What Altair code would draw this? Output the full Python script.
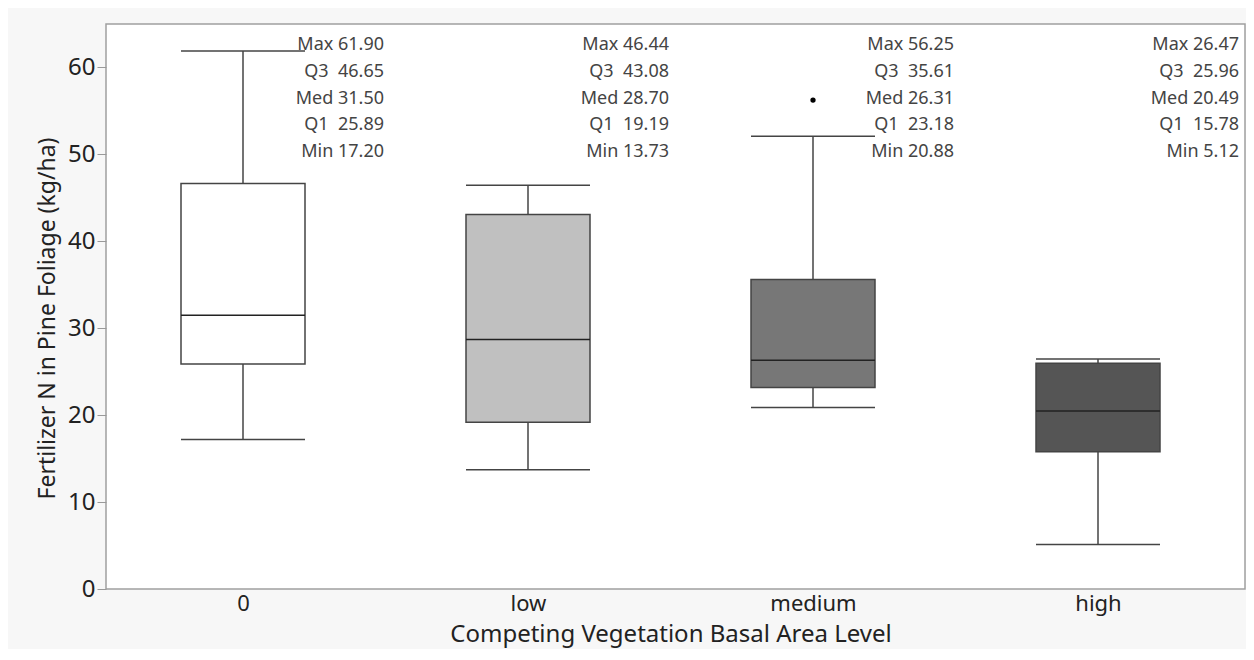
import altair as alt
import pandas as pd

categories = ["0", "low", "medium", "high"]
q1 = [25.89, 19.19, 23.18, 15.78]
q3 = [46.65, 43.08, 35.61, 25.96]
med = [31.50, 28.70, 26.31, 20.49]
mins = [17.20, 13.73, 20.88, 5.12]
maxs = [61.90, 46.44, 56.25, 26.47]
whisk_hi = [61.90, 46.44, 52.10, 26.47]
whisk_lo = [17.20, 13.73, 20.88, 5.12]
fills = ["#ffffff", "#c0c0c0", "#777777", "#555555"]
outlier_cat = ["medium"]
outlier_val = [56.25]
stat_rows = ["Max", "Q3", "Med", "Q1", "Min"]

box_df = pd.DataFrame({
    "cat": categories, "q1": q1, "q3": q3, "med": med,
    "wlo": whisk_lo, "whi": whisk_hi, "fill": fills,
})
out_df = pd.DataFrame({"cat": outlier_cat, "val": outlier_val})

sep = {"Max": " ", "Q3": "\u00a0\u00a0", "Med": " ", "Q1": "\u00a0\u00a0", "Min": " "}
txt = []
for i, c in enumerate(categories):
    vals = {"Max": maxs[i], "Q3": q3[i], "Med": med[i], "Q1": q1[i], "Min": mins[i]}
    for r in stat_rows:
        txt.append({"cat": c, "row": r, "label": f"{r}{sep[r]}{vals[r]:.2f}"})
txt_df = pd.DataFrame(txt)

FONT = "Noto Sans"
x_scale = alt.Scale(type="point", domain=categories, range=[137, 992], padding=0)
x_axis = alt.Axis(title="Competing Vegetation Basal Area Level", labelAngle=0, ticks=False,
                  domain=False, grid=False, labelFontSize=22, titleFontSize=24,
                  labelPadding=4, titleBaseline="alphabetic", titleY=52,
                  labelColor="#222", titleColor="#222",
                  labelFont=FONT, titleFont=FONT, titleFontWeight="normal")
x_enc = alt.X("cat:N", sort=categories, scale=x_scale, axis=x_axis)

y_scale = alt.Scale(domain=[0, 65], nice=False, zero=True)
y_axis = alt.Axis(title="Fertilizer N in Pine Foliage (kg/ha)", values=[0, 10, 20, 30, 40, 50, 60],
                  grid=False, domain=False, tickSize=9, tickColor="#999", labelPadding=2,
                  labelFontSize=24, titleFontSize=23, labelColor="#222", titleColor="#222",
                  labelFont=FONT, titleFont=FONT, titleFontWeight="normal", titlePadding=8,
                  titleY=294)

base = alt.Chart(box_df)
line_col = "#444"

w_lo = base.mark_rule(color=line_col, strokeWidth=1.5).encode(
    x=x_enc, y=alt.Y("wlo:Q", scale=y_scale, axis=y_axis), y2="q1:Q")
w_hi = base.mark_rule(color=line_col, strokeWidth=1.5).encode(
    x=x_enc, y=alt.Y("q3:Q", scale=y_scale, axis=y_axis), y2="whi:Q")
box = base.mark_bar(size=124, stroke=line_col, strokeWidth=1.5, opacity=1).encode(
    x=x_enc, y=alt.Y("q1:Q", scale=y_scale, axis=y_axis), y2="q3:Q",
    fill=alt.Fill("fill:N", scale=None))
median = base.mark_tick(size=124, thickness=1.5, color="#222", opacity=1).encode(
    x=x_enc, y=alt.Y("med:Q", scale=y_scale, axis=y_axis))
cap_lo = base.mark_tick(size=124, thickness=1.5, color=line_col, opacity=1).encode(
    x=x_enc, y=alt.Y("wlo:Q", scale=y_scale, axis=y_axis))
cap_hi = base.mark_tick(size=124, thickness=1.5, color=line_col, opacity=1).encode(
    x=x_enc, y=alt.Y("whi:Q", scale=y_scale, axis=y_axis))
outl = alt.Chart(out_df).mark_circle(size=28, color="black", opacity=1).encode(
    x=x_enc, y=alt.Y("val:Q", scale=y_scale, axis=y_axis))

main = alt.layer(w_lo, w_hi, box, median, cap_lo, cap_hi, outl)

text = alt.Chart(txt_df).mark_text(align="right", baseline="middle", dx=141, fontSize=18,
                                   font=FONT, color="#444").encode(
    x=x_enc,
    y=alt.Y("row:N", sort=stat_rows,
            scale=alt.Scale(type="point", domain=stat_rows, range=[21, 128], padding=0),
            axis=None),
    text="label:N")

chart = alt.layer(main, text).resolve_scale(y="independent").properties(
    width=1139, height=565,
    padding={"left": 98, "top": 16, "right": 1, "bottom": 60},
    autosize=alt.AutoSizeParams(type="none"),
    background="#f7f7f7",
).configure_view(fill="white", stroke="#a0a0a0", strokeWidth=1.5)

chart.save("out.html", embed_options={"renderer": "svg", "actions": False})
